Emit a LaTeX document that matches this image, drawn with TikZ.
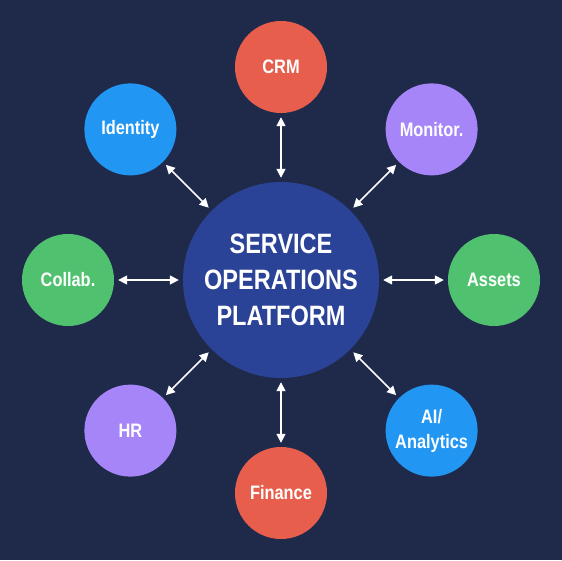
\documentclass[tikz,border=0pt]{standalone}
\usepackage{fontspec}
\setmainfont{Liberation Sans}[FakeStretch=0.84]
\usepackage{tikz}
\usetikzlibrary{arrows.meta}
\definecolor{bg}{HTML}{1F2A4B}
\definecolor{hub}{HTML}{2B4397}
\definecolor{coral}{HTML}{E85E4C}
\definecolor{violet}{HTML}{A685F8}
\definecolor{leaf}{HTML}{50C26F}
\definecolor{sky}{HTML}{2196F3}
\tikzset{
  hubnode/.style={circle, fill=hub, minimum size=196pt, inner sep=0pt, text=white,
    align=center, font=\bfseries\fontsize{28}{36}\selectfont},
  spoke/.style={circle, minimum size=92pt, inner sep=0pt, text=white,
    align=center, font=\bfseries\fontsize{19.5}{25}\selectfont},
  link/.style={draw=white, line width=1.6pt, {Triangle[length=9pt,width=9pt]}-{Triangle[length=9pt,width=9pt]},
    shorten <=4pt, shorten >=4pt},
}
\begin{document}
\begin{tikzpicture}[x=1pt,y=1pt]
  \pgfmathsetmacro{\R}{213}
  \fill[bg] (-281,-280) rectangle (281,280);
  \useasboundingbox (-281,-280) rectangle (281,280);
  \node[hubnode] (hub) at (0,0) {SERVICE\\OPERATIONS\\PLATFORM};
  \foreach \ang/\nm/\txt/\col in {90/crm/CRM/coral, 45/mon/Monitor./violet,
      0/assets/Assets/leaf, -45/ai/{AI/\\Analytics}/sky, -90/fin/Finance/coral,
      -135/hr/HR/violet, 180/collab/Collab./leaf, 135/ident/Identity/sky}{
    \node[spoke, fill=\col] (\nm) at (\ang:\R) {\txt};
    \draw[link] (hub) -- (\nm);
  }
\end{tikzpicture}
\end{document}
